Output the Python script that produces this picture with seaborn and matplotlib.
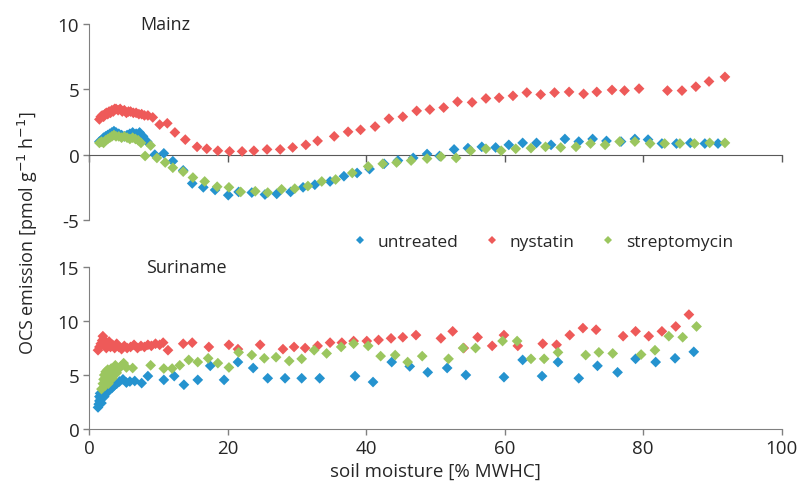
import matplotlib
matplotlib.use("Agg")
import matplotlib.pyplot as plt
import seaborn as sns
import pandas as pd

# --- Mainz ---
mainz_untreated_x = [1.5, 1.8, 2.1, 2.4, 2.7, 3.0, 3.3, 3.6, 3.9, 4.3, 4.7, 5.1, 5.5, 5.9, 6.3, 6.8, 7.3, 7.8,
                     8.4, 9.5, 10.8, 12.1, 13.6, 14.9, 16.5, 18.2, 20.1, 21.6, 23.5,
                     25.4, 27.1, 29.1, 30.9, 32.6, 34.8, 36.8, 38.7, 40.5, 42.6,
                     44.6, 46.8, 48.8, 50.6, 52.7, 54.7, 56.7, 58.7, 60.6, 62.6,
                     64.6, 66.7, 68.7, 70.7, 72.7, 74.7, 76.8, 78.8, 80.7, 82.7, 84.8, 86.8, 88.9, 90.8]
mainz_untreated_y = [1.0, 1.1, 1.3, 1.4, 1.5, 1.6, 1.7, 1.8, 1.7, 1.6, 1.5, 1.4, 1.5, 1.6, 1.7, 1.6, 1.7, 1.4,
                     1.0, 0.0, 0.1, -0.5, -1.2, -2.2, -2.5, -2.7, -3.1, -2.85, -2.9,
                     -3.05, -3.0, -2.85, -2.5, -2.3, -2.05, -1.65, -1.4, -1.1, -0.7,
                     -0.45, -0.25, 0.05, -0.1, 0.4, 0.5, 0.6, 0.55, 0.75, 0.9,
                     0.9, 0.75, 1.2, 1.0, 1.2, 1.05, 1.0, 1.2, 1.15, 0.85, 0.85, 0.9, 0.85, 0.85]

mainz_nystatin_x = [1.5, 1.7, 1.9, 2.1, 2.3, 2.5, 2.7, 2.9, 3.1, 3.3, 3.5, 3.7, 3.9, 4.2, 4.5, 4.8, 5.1, 5.4,
                    5.7, 6.0, 6.4, 6.8, 7.2, 7.6, 8.0, 8.5, 9.2,
                    10.2, 11.3, 12.4, 13.9, 15.6, 17.0, 18.6, 20.3, 22.1, 23.8,
                    25.7, 27.6, 29.4, 31.3, 33.0, 35.4, 37.4, 39.2, 41.3, 43.3,
                    45.3, 47.3, 49.2, 51.2, 53.2, 55.3, 57.3, 59.2, 61.2, 63.2,
                    65.2, 67.2, 69.3, 71.4, 73.3, 75.5, 77.3, 79.4, 83.5, 85.6,
                    87.6, 89.5, 91.8]
mainz_nystatin_y = [2.7, 2.9, 3.0, 2.9, 3.1, 3.2, 3.1, 3.3, 3.2, 3.4, 3.3, 3.5, 3.5, 3.4, 3.5, 3.3, 3.4, 3.2,
                    3.3, 3.3, 3.2, 3.2, 3.1, 3.1, 3.0, 3.0, 2.85,
                    2.3, 2.4, 1.7, 1.15, 0.6, 0.45, 0.3, 0.25, 0.25, 0.3,
                    0.4, 0.4, 0.55, 0.75, 1.05, 1.4, 1.75, 1.9, 2.15, 2.75,
                    2.9, 3.35, 3.45, 3.6, 4.05, 4.0, 4.3, 4.35, 4.5, 4.75,
                    4.6, 4.75, 4.8, 4.65, 4.8, 4.95, 4.9, 5.05, 4.9, 4.9,
                    5.2, 5.6, 5.95]

mainz_strepto_x = [1.5, 1.8, 2.1, 2.4, 2.7, 3.0, 3.3, 3.6, 3.9, 4.3, 4.7, 5.1, 5.5, 5.9, 6.3, 6.7, 7.1, 7.5,
                   8.1, 8.9, 9.8, 11.0, 12.1, 13.6, 15.0, 16.7, 18.5, 20.2,
                   21.9, 24.0, 25.8, 27.8, 29.7, 31.6, 33.6, 35.6, 38.0, 40.3,
                   42.4, 44.4, 46.5, 48.8, 50.8, 53.0, 55.1, 57.3, 59.5, 61.6,
                   63.8, 65.9, 68.1, 70.3, 72.4, 74.5, 76.6, 78.8, 81.0, 83.1,
                   85.3, 87.4, 89.6, 91.8]
mainz_strepto_y = [0.9, 1.0, 0.9, 1.1, 1.2, 1.3, 1.4, 1.5, 1.4, 1.4, 1.3, 1.4, 1.3, 1.2, 1.3, 1.2, 1.1, 0.9,
                   -0.1, 0.7, -0.25, -0.6, -1.0, -1.3, -1.75, -2.05, -2.45, -2.5,
                   -2.85, -2.8, -2.9, -2.65, -2.6, -2.4, -2.05, -1.9, -1.4, -0.9,
                   -0.7, -0.6, -0.45, -0.3, -0.15, -0.25, 0.3, 0.45, 0.3, 0.45,
                   0.5, 0.6, 0.55, 0.6, 0.85, 0.75, 1.0, 1.0, 0.85, 0.85,
                   0.85, 0.85, 0.9, 0.9]

# --- Suriname ---
sur_untreated_x = [1.3, 1.4, 1.5, 1.5, 1.6, 1.7, 1.8, 1.9, 2.0, 2.2, 2.4, 2.6, 2.8, 3.0, 3.3, 3.6, 4.0, 4.4,
                   4.9, 5.4, 5.9, 6.6, 7.6, 8.5,
                   10.8, 12.3, 13.7, 15.7, 17.5, 19.5, 21.5, 23.7, 25.8, 28.3,
                   30.7, 33.3, 38.4, 41.0, 43.7, 46.3, 48.9, 51.7, 54.4, 59.9,
                   62.6, 65.4, 67.7, 70.7, 73.4, 76.3, 78.9, 81.8, 84.6, 87.3]
sur_untreated_y = [2.0, 2.3, 2.6, 3.0, 3.3, 2.8, 2.4, 3.1, 3.4, 3.0, 3.3, 3.6, 3.5, 3.9, 3.8, 4.0, 4.2, 4.4,
                   4.6, 4.3, 4.4, 4.45, 4.25, 4.9,
                   4.55, 4.9, 4.1, 4.55, 5.85, 4.55, 6.2, 5.65, 4.7, 4.7,
                   4.7, 4.7, 4.9, 4.35, 6.2, 5.8, 5.25, 5.65, 5.0, 4.8,
                   6.4, 4.9, 6.2, 4.7, 5.85, 5.25, 6.5, 6.2, 6.55, 7.15]

sur_nystatin_x = [1.3, 1.5, 1.7, 1.9, 2.0, 2.1, 2.3, 2.5, 2.7, 2.9, 3.1, 3.4, 3.7, 4.0, 4.3, 4.7, 5.1, 5.5,
                  6.0, 6.5, 7.0, 7.5, 8.0, 8.5, 9.0, 9.6, 10.2, 10.7,
                  11.4, 13.6, 14.9, 17.3, 20.2, 21.5, 24.7, 28.0, 29.6, 31.2,
                  33.0, 34.8, 36.5, 38.2, 40.1, 41.8, 43.6, 45.3, 47.2, 50.8,
                  52.5, 54.1, 56.1, 58.2, 59.9, 61.9, 65.5, 67.5, 69.4, 71.3,
                  73.2, 77.1, 78.9, 80.8, 82.7, 84.7, 86.6]
sur_nystatin_y = [7.3, 7.6, 7.9, 8.2, 8.6, 8.3, 7.9, 7.5, 7.7, 8.1, 7.6, 7.8, 7.5, 7.9, 7.6, 7.4, 7.7, 7.5,
                  7.6, 7.8, 7.5, 7.7, 7.6, 7.8, 7.7, 7.9, 7.8, 8.0,
                  7.3, 7.9, 8.0, 7.6, 7.8, 7.4, 7.8, 7.4, 7.6, 7.5,
                  7.7, 8.0, 8.0, 8.15, 8.15, 8.25, 8.4, 8.5, 8.7, 8.4,
                  9.05, 7.5, 8.5, 7.7, 8.7, 7.7, 7.9, 7.8, 8.7, 9.35,
                  9.2, 8.6, 9.05, 8.6, 9.05, 9.5, 10.6]

sur_strepto_x = [1.8, 2.0, 2.1, 2.2, 2.3, 2.4, 2.5, 2.6, 2.7, 2.8, 3.0, 3.2, 3.4, 3.6, 3.8, 4.0, 4.3, 4.6,
                 5.0, 5.4,
                 6.3, 8.9, 10.8, 12.0, 13.1, 14.4, 15.7, 17.2, 18.6, 20.2,
                 21.6, 23.5, 25.3, 27.0, 28.9, 30.7, 32.5, 34.3, 36.4, 38.2,
                 40.3, 42.1, 44.2, 46.0, 48.1, 51.9, 54.0, 55.8, 59.7, 61.8,
                 63.8, 65.7, 67.7, 71.7, 73.6, 75.6, 79.7, 81.7, 83.7, 85.7, 87.7]
sur_strepto_y = [3.7, 4.2, 4.6, 5.0, 4.0, 5.3, 4.4, 4.8, 5.5, 4.2, 5.0, 5.6, 4.7, 5.3, 5.9, 5.2, 5.6, 5.8,
                 6.1, 5.7,
                 5.65, 5.9, 5.6, 5.6, 5.9, 6.4, 6.2, 6.55, 6.1, 5.7,
                 7.1, 6.85, 6.55, 6.65, 6.3, 6.5, 7.3, 7.0, 7.6, 7.9,
                 7.7, 6.75, 6.85, 6.2, 6.75, 6.5, 7.5, 7.5, 8.15, 8.15,
                 6.5, 6.5, 7.1, 6.85, 7.1, 7.0, 6.9, 7.3, 8.6, 8.5, 9.5]

treatments = ["untreated", "nystatin", "streptomycin"]
colors = ["#2593CF", "#EE5A59", "#9BC65F"]


def long_frame(xs, ys):
    parts = []
    for name, x, y in zip(treatments, xs, ys):
        parts.append(pd.DataFrame({"moisture": x, "ocs": y, "treatment": name}))
    return pd.concat(parts, ignore_index=True)


mainz = long_frame([mainz_untreated_x, mainz_nystatin_x, mainz_strepto_x],
                   [mainz_untreated_y, mainz_nystatin_y, mainz_strepto_y])
suriname = long_frame([sur_untreated_x, sur_nystatin_x, sur_strepto_x],
                      [sur_untreated_y, sur_nystatin_y, sur_strepto_y])

sns.set_style("white")
plt.rcParams["font.family"] = ["Open Sans", "DejaVu Sans"]
plt.rcParams["axes.unicode_minus"] = False

fig = plt.figure(figsize=(7.99, 4.89), dpi=100)
ax1 = fig.add_axes([0.1114, 0.548, 0.867, 0.401])
ax2 = fig.add_axes([0.1114, 0.1207, 0.867, 0.331])

pal = dict(zip(treatments, colors))
sns.scatterplot(data=mainz, x="moisture", y="ocs", hue="treatment", palette=pal,
                marker="D", s=30, linewidth=0, ax=ax1, legend=False, zorder=3)
sns.scatterplot(data=suriname, x="moisture", y="ocs", hue="treatment", palette=pal,
                marker="D", s=30, linewidth=0, ax=ax2, zorder=3)

axis_color = "#808080"
for ax in (ax1, ax2):
    ax.set_xlim(0, 100)
    ax.set_xticks([0, 20, 40, 60, 80, 100])
    ax.spines["top"].set_visible(False)
    ax.spines["right"].set_visible(False)
    ax.spines["left"].set_color(axis_color)
    ax.spines["bottom"].set_color(axis_color)
    ax.tick_params(axis="both", direction="out", length=4, width=1, color=axis_color,
                   labelsize=13.5, pad=3, left=True, bottom=True)
    ax.set_xlabel("")
    ax.set_ylabel("")

ax1.set_ylim(-5, 10)
ax1.set_yticks([-5, 0, 5, 10])
ax1.spines["bottom"].set_position(("data", 0))
ax1.spines["bottom"].set_color("#595959")
ax1.tick_params(axis="x", labelbottom=False, color="#595959", length=5)
ax1.text(7.4, 10, "Mainz", fontsize=13, va="center")

ax2.set_ylim(0, 15)
ax2.set_yticks([0, 5, 10, 15])
ax2.text(8.2, 15, "Suriname", fontsize=13, va="center")
ax2.set_xlabel("soil moisture [% MWHC]", fontsize=13.5, labelpad=4)

handles, labels = ax2.get_legend_handles_labels()
ax2.get_legend().remove()
fig.legend(handles, labels, loc="center", bbox_to_anchor=(0.673, 0.503), ncol=3,
           frameon=False, fontsize=12.5, handletextpad=0.05, columnspacing=0.9,
           markerscale=0.75)

fig.text(0.035, 0.523, "OCS emission [pmol g$^{-1}$ h$^{-1}$]", rotation=90,
         va="center", ha="center", fontsize=13)

fig.savefig("out.png", dpi=100)
